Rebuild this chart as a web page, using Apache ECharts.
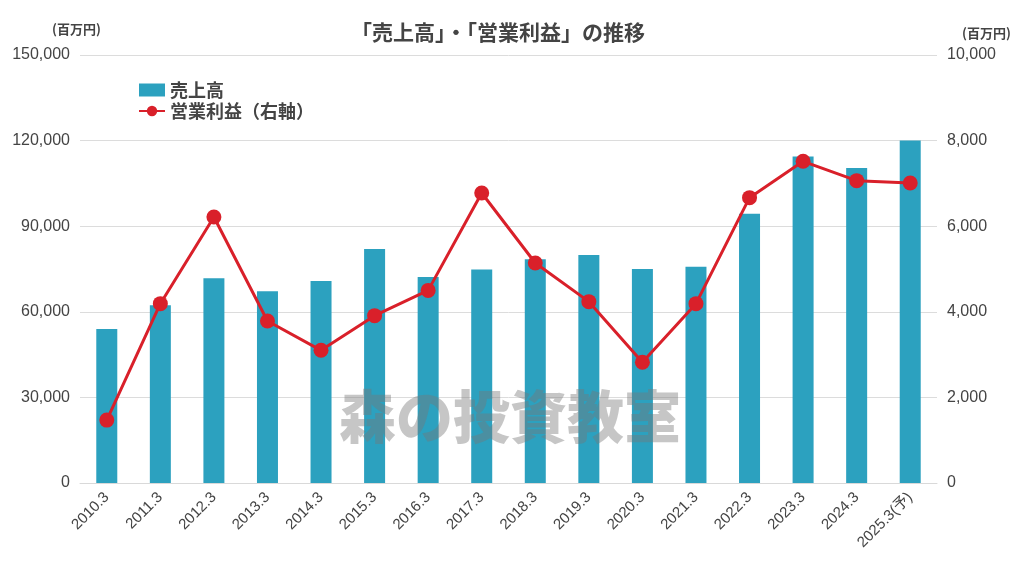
<!DOCTYPE html>
<html><head><meta charset="utf-8">
<script src="https://cdn.jsdelivr.net/npm/echarts@6/dist/echarts.min.js"></script>
<style>html,body{margin:0;padding:0;background:#fff}#c{width:1024px;height:578px}</style>
</head><body><div id="c"></div>
<script>
const categories = ['2010.3','2011.3','2012.3','2013.3','2014.3','2015.3','2016.3','2017.3','2018.3','2019.3','2020.3','2021.3','2022.3','2023.3','2024.3','2025.3(予)'];
const sales = [54000, 62300, 71800, 67200, 70800, 82000, 72200, 74800, 78400, 79900, 75000, 75800, 94400, 114400, 110400, 120000];
const operatingProfit = [1470, 4190, 6215, 3785, 3100, 3910, 4500, 6776, 5140, 4237, 2820, 4190, 6667, 7516, 7064, 7009];
const leftTicks = {min: 0, max: 150000, interval: 30000};
const rightTicks = {min: 0, max: 10000, interval: 2000};

const FONT = '"Liberation Sans", "Noto Sans CJK JP", sans-serif';
const CJK = '"Noto Sans CJK JP", sans-serif';
const chart = echarts.init(document.getElementById('c'));
chart.setOption({
  backgroundColor: '#fff',
  animation: false,
  title: {
    text: '「売上高」・「営業利益」の推移',
    left: 346, top: 17,
    textStyle: {fontFamily: CJK, fontSize: 21, fontWeight: 'bold', color: '#444'}
  },
  legend: {
    orient: 'vertical', left: 133, top: 76, itemGap: 3,
    itemWidth: 26, itemHeight: 13,
    textStyle: {fontFamily: CJK, fontSize: 18, fontWeight: 'bold', color: '#444'},
    data: [{name: '売上高', icon: 'rect'}, {name: '営業利益（右軸）'}]
  },
  grid: {left: 80, right: 87, top: 55, bottom: 95},
  xAxis: {
    type: 'category', data: categories,
    axisLine: {lineStyle: {color: '#d9d9d9', width: 1}},
    axisTick: {show: false},
    axisLabel: {rotate: 45, fontFamily: FONT, fontSize: 15, color: '#444', margin: 12, interval: 0}
  },
  yAxis: [
    {type: 'value', min: leftTicks.min, max: leftTicks.max, interval: leftTicks.interval,
     axisLine: {show: false}, axisTick: {show: false},
     splitLine: {lineStyle: {color: '#dcdcdc'}},
     axisLabel: {fontFamily: FONT, fontSize: 16, color: '#444', margin: 10,
       formatter: v => v.toLocaleString('en-US')}},
    {type: 'value', min: rightTicks.min, max: rightTicks.max, interval: rightTicks.interval,
     axisLine: {show: false}, axisTick: {show: false}, splitLine: {show: false},
     axisLabel: {fontFamily: FONT, fontSize: 16, color: '#444', margin: 10,
       formatter: v => v.toLocaleString('en-US')}}
  ],
  series: [
    {name: '売上高', type: 'bar', data: sales, barWidth: 21, yAxisIndex: 0,
     itemStyle: {color: '#2ca1bf'}},
    {name: '営業利益（右軸）', type: 'line', data: operatingProfit, yAxisIndex: 1,
     symbol: 'circle', symbolSize: 15,
     lineStyle: {color: '#d9202a', width: 3},
     itemStyle: {color: '#d9202a'}, z: 5}
  ],
  graphic: [
    {type: 'text', left: 52, top: 23, style: {text: '(百万円)', fontFamily: CJK, fontSize: 13, fontWeight: 'bold', fill: '#444'}},
    {type: 'text', left: 962, top: 27, style: {text: '(百万円)', fontFamily: CJK, fontSize: 13, fontWeight: 'bold', fill: '#444'}},
    {type: 'text', x: 510, y: 416, z: 100,
     style: {text: '森の投資教室', fontFamily: CJK, fontSize: 57, fontWeight: 900,
       fill: 'rgba(120,120,120,0.42)', align: 'center', verticalAlign: 'middle'}}
  ]
});
</script></body></html>
